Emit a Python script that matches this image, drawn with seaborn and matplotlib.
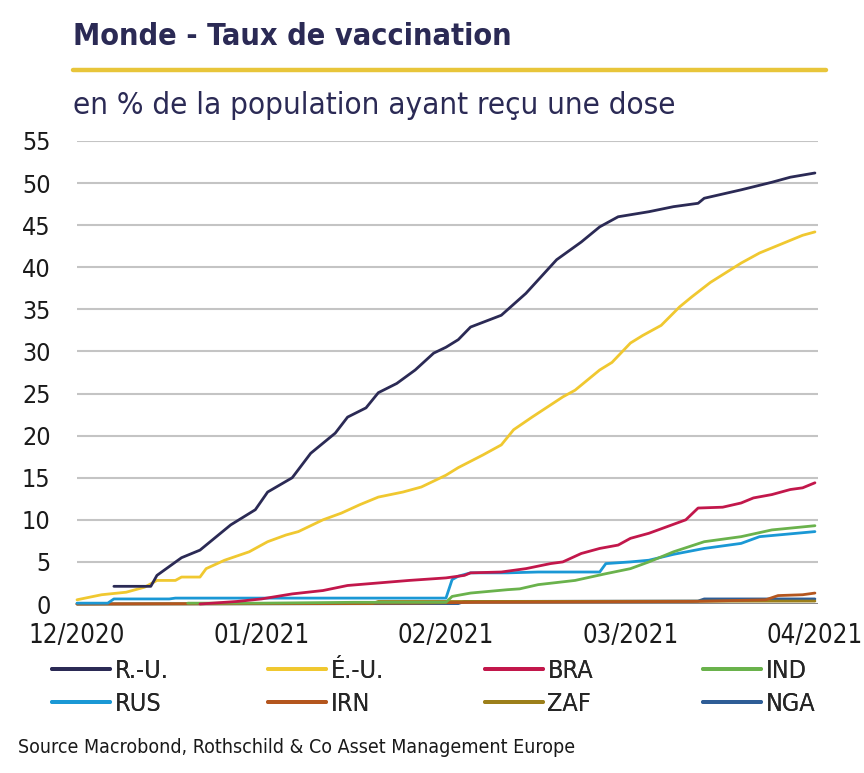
import pandas as pd
import seaborn as sns
import matplotlib.pyplot as plt
from matplotlib.lines import Line2D

# days since start of chart (x axis), values in % of population with one dose
uk_days = [6, 12, 13, 17, 20, 25, 29, 31, 35, 38, 42, 44, 47, 49, 52, 55, 58, 60, 62, 64,
           69, 73, 75, 78, 82, 85, 88, 93, 97, 101, 102, 108, 113, 116, 120]
uk_vals = [2.1, 2.1, 3.4, 5.5, 6.4, 9.4, 11.2, 13.3, 15.0, 17.9, 20.3, 22.2, 23.3, 25.1, 26.2,
           27.8, 29.8, 30.5, 31.4, 32.9, 34.3, 36.9, 38.5, 40.9, 43.0, 44.8, 46.0, 46.6, 47.2,
           47.6, 48.2, 49.2, 50.1, 50.7, 51.2]

us_days = [0, 4, 8, 11, 13, 16, 17, 20, 21, 24, 28, 31, 34, 36, 40, 43, 46, 49, 53, 56, 60,
           62, 66, 69, 71, 74, 79, 81, 85, 87, 90, 92, 95, 98, 100, 103, 108, 111, 114, 118, 120]
us_vals = [0.5, 1.1, 1.4, 2.0, 2.8, 2.8, 3.2, 3.2, 4.2, 5.2, 6.2, 7.4, 8.2, 8.6, 10.0, 10.8,
           11.8, 12.7, 13.3, 13.9, 15.3, 16.2, 17.7, 18.9, 20.7, 22.2, 24.6, 25.4, 27.8, 28.7,
           31.0, 31.9, 33.1, 35.3, 36.5, 38.2, 40.5, 41.7, 42.6, 43.8, 44.2]

bra_days = [20, 26, 30, 35, 40, 44, 49, 54, 60, 63, 64, 69, 73, 77, 79, 82, 85, 88, 90, 93,
            96, 99, 101, 105, 108, 110, 113, 116, 118, 120]
bra_vals = [0.0, 0.3, 0.6, 1.2, 1.6, 2.2, 2.5, 2.8, 3.1, 3.4, 3.7, 3.8, 4.2, 4.8, 5.0, 6.0,
            6.6, 7.0, 7.8, 8.4, 9.2, 10.0, 11.4, 11.5, 12.0, 12.6, 13.0, 13.6, 13.8, 14.4]

ind_days = [18, 30, 45, 60, 61, 64, 70, 72, 75, 81, 86, 90, 93, 97, 102, 108, 113, 120]
ind_vals = [0.1, 0.1, 0.2, 0.2, 0.9, 1.3, 1.7, 1.8, 2.3, 2.8, 3.6, 4.2, 5.0, 6.2, 7.4, 8.0,
            8.8, 9.3]

rus_days = [0, 5, 6, 15, 16, 60, 61, 62, 64, 70, 75, 85, 86, 90, 93, 97, 102, 108, 111, 114, 120]
rus_vals = [0.1, 0.1, 0.6, 0.6, 0.7, 0.7, 2.9, 3.3, 3.7, 3.7, 3.8, 3.8, 4.8, 5.0, 5.2, 5.9,
            6.6, 7.2, 8.0, 8.2, 8.6]

irn_days = [0, 30, 55, 65, 100, 112, 114, 118, 120]
irn_vals = [0.0, 0.05, 0.1, 0.2, 0.3, 0.5, 1.0, 1.1, 1.3]

zaf_days = [0, 48, 49, 63, 120]
zaf_vals = [0.0, 0.05, 0.3, 0.3, 0.35]

nga_days = [0, 62, 63, 101, 102, 120]
nga_vals = [0.0, 0.05, 0.3, 0.35, 0.6, 0.6]

countries = ["R.-U.", "É.-U.", "BRA", "IND", "RUS", "IRN", "ZAF", "NGA"]
colors = ["#2b2a55", "#f0c830", "#c2174b", "#6ab24c", "#1a98d5", "#b4561e", "#9c7f1a", "#2e5d96"]
tick_days = [0, 30, 60, 90, 120]
tick_labels = ["12/2020", "01/2021", "02/2021", "03/2021", "04/2021"]

series = [
    (uk_days, uk_vals), (us_days, us_vals), (bra_days, bra_vals), (ind_days, ind_vals),
    (rus_days, rus_vals), (irn_days, irn_vals), (zaf_days, zaf_vals), (nga_days, nga_vals),
]
frames = []
for name, (d, v) in zip(countries, series):
    frames.append(pd.DataFrame({"day": d, "value": v, "country": name}))
df = pd.concat(frames, ignore_index=True)

sns.set_theme(style="white")
plt.rcParams["font.family"] = ["DejaVu Sans Condensed", "Liberation Sans Narrow", "DejaVu Sans"]
plt.rcParams["font.stretch"] = "condensed"

navy = "#2b2a55"
fig = plt.figure(figsize=(8.64, 7.73), dpi=100)
ax = fig.add_axes([77 / 864, 1 - 604 / 773, (818 - 77) / 864, (604 - 141) / 773])

# grid lines first
for yv in range(5, 60, 5):
    ax.axhline(yv, color="#c4c4c4", lw=1.5, zorder=0)
ax.axhline(0, color="#8a8a8a", lw=1.5, zorder=0)

# draw in reverse so R.-U. stays on top
palette = dict(zip(countries, colors))
for name in countries[::-1]:
    sns.lineplot(data=df[df["country"] == name], x="day", y="value", color=palette[name],
                 lw=2.0, estimator=None, ax=ax, legend=False, clip_on=False)

ax.set_xlim(0, 120.5)
ax.set_ylim(0, 55)
ax.set_yticks(range(0, 60, 5))
ax.set_xticks(tick_days)
ax.set_xticklabels(tick_labels)
ax.set_xlabel("")
ax.set_ylabel("")
ax.tick_params(axis="y", labelsize=18, pad=19, length=0, colors="#1a1a1a")
ax.tick_params(axis="x", labelsize=18.5, pad=14, length=0, colors="#1a1a1a")
for s in ax.spines.values():
    s.set_visible(False)

# title block
fig.text(73 / 864, 1 - 45 / 773, "Monde - Taux de vaccination", fontsize=22, fontweight="bold",
         color=navy, va="baseline", ha="left")
fig.add_artist(Line2D([73 / 864, 826 / 864], [1 - 70 / 773, 1 - 70 / 773], color="#e8c53a", lw=3.2))
fig.text(73 / 864, 1 - 114 / 773, "en % de la population ayant reçu une dose", fontsize=22.5,
         color=navy, va="baseline", ha="left")

# legend: four columns of two entries each
handles = [Line2D([0], [0], color=c, lw=2.8) for c in colors]
col_x = [52, 268, 485, 703]
for i, x0 in enumerate(col_x):
    idx = [i, i + 4]
    leg = fig.legend([handles[j] for j in idx], [countries[j] for j in idx],
                     loc="upper left", bbox_to_anchor=(x0 / 864, 1 - 659 / 773),
                     frameon=False, fontsize=18, handlelength=2.3, handletextpad=0.2,
                     borderaxespad=0, borderpad=0, labelspacing=0.35)
    fig.add_artist(leg)

fig.text(18 / 864, 1 - 753 / 773, "Source Macrobond, Rothschild & Co Asset Management Europe",
         fontsize=14, color="#1a1a1a", va="baseline", ha="left")

fig.savefig("out.png", dpi=100)
